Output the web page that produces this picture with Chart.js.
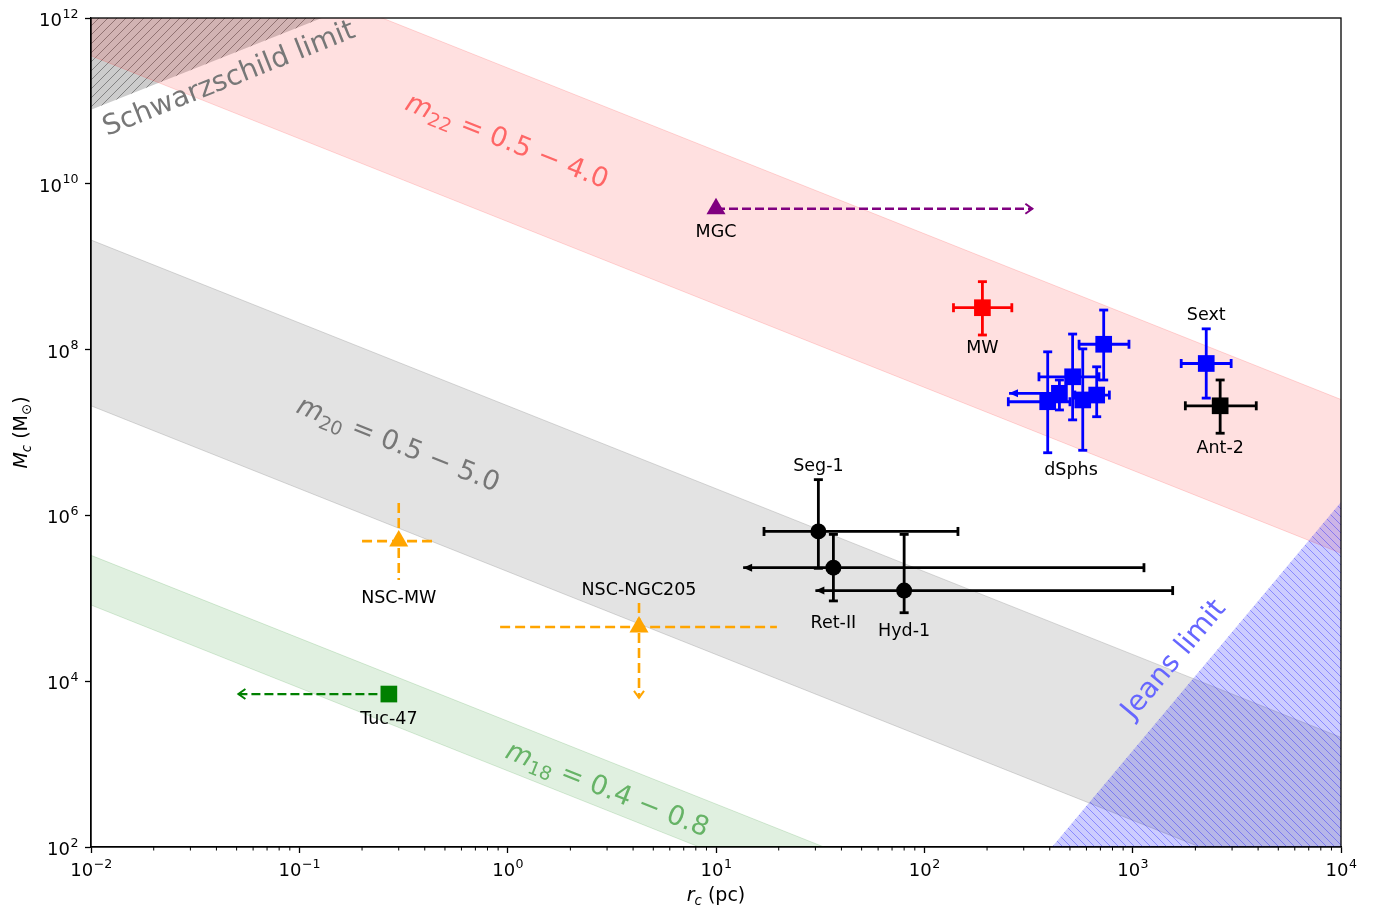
<!DOCTYPE html>
<html>
<head>
<meta charset="utf-8">
<script src="https://cdn.jsdelivr.net/npm/chart.js@4.4.0/dist/chart.umd.min.js"></script>
<style>
  html, body { margin: 0; padding: 0; background: #fff; }
  canvas { display: block; }
</style>
</head>
<body>
<canvas id="chart" width="1375" height="905"></canvas>
<script>
// ---- data ----

// axis ticks (labels are 10^exponent)
const xTickValues = [0.01, 0.1, 1, 10, 100, 1000, 10000];
const xTickExp = ['−2', '−1', '0', '1', '2', '3', '4'];
const yTickValues = [1e2, 1e4, 1e6, 1e8, 1e10, 1e12];
const yTickExp = ['2', '4', '6', '8', '10', '12'];

// band edges (r_c in pc, M_c in Msun)
const bandR = [0.01, 1e4];
const m22Upper = [2.5e13, 2.5e7];
const m22Lower = [3.5e11, 3.5e5];
const m20Upper = [2.1e9, 2.1e3];
const m20Lower = [2.1e7, 2.1e1];
const m18Upper = [3.3e5, 0.33];
const m18Lower = [8.3e4, 0.083];
const schwR = [0.01, 1];
const schwM = [7.8e10, 7.8e12];
const jeansR = [410, 1e4];
const jeansM = [1e2, 1.45e6];

// named objects
const objNames = ['MGC', 'MW', 'Sext', 'Ant-2', 'Seg-1', 'Ret-II', 'Hyd-1', 'NSC-MW', 'NSC-NGC205', 'Tuc-47'];
const objR   = [10, 190, 2255, 2630, 31, 36.6, 80, 0.30, 4.27, 0.269];
const objM   = [5e9, 3.2e8, 6.8e7, 2.1e7, 6.4e5, 2.34e5, 1.24e5, 4.9e5, 4.5e4, 7.0e3];
const objRLo = [null, 138, 1710, 1790, 17, 13.5, 30, 0.20, 0.92, 0.051];
const objRHi = [330, 263, 2970, 3920, 145, 1133, 1556, 0.45, 19.6, null];
const objMLo = [null, 1.5e8, 2.6e7, 9.8e6, 2.3e5, 9.3e4, 6.7e4, 1.66e5, 6.3e3, null];
const objMHi = [null, 6.6e8, 1.78e8, 4.3e7, 2.7e6, 5.9e5, 5.9e5, 1.41e6, 8.8e4, null];
const objLimits = ['r>', '', '', '', '', 'r<', 'r<', '', 'M<', 'r<'];

// dwarf spheroidals cluster
const dsphR   = [726, 515, 445, 391, 576, 672];
const dsphM   = [1.16e8, 4.7e7, 2.97e7, 2.35e7, 2.47e7, 2.83e7];
const dsphRLo = [553, 355, 255, 253, null, 528];
const dsphRHi = [960, 689, null, 500, null, 773];
const dsphMLo = [4.3e7, 1.42e7, 1.87e7, 5.7e6, 6.1e6, 1.55e7];
const dsphMHi = [3.0e8, 1.54e8, 4.3e7, 9.4e7, 1.02e8, 6.2e7];
const dsphLimits = ['', '', 'r<', '', '', ''];

// ---- styles ----
const FONT = '"DejaVu Sans", sans-serif';
const styles = {
  'MGC':        { color: '#800080', marker: 'triangle', dash: [9, 4], caps: false, lw: 2.3 },
  'MW':         { color: '#ff0000', marker: 'rect', caps: true, lw: 2.8 },
  'Sext':       { color: '#0000ff', marker: 'rect', caps: true, lw: 2.8 },
  'Ant-2':      { color: '#000000', marker: 'rect', caps: true, lw: 2.8 },
  'Seg-1':      { color: '#000000', marker: 'circle', caps: true, lw: 2.8 },
  'Ret-II':     { color: '#000000', marker: 'circle', caps: true, lw: 2.8 },
  'Hyd-1':      { color: '#000000', marker: 'circle', caps: true, lw: 2.8 },
  'NSC-MW':     { color: '#ffa500', marker: 'triangle', dash: [10, 5], caps: false, lw: 2.6 },
  'NSC-NGC205': { color: '#ffa500', marker: 'triangle', dash: [10, 5], caps: false, lw: 2.6 },
  'Tuc-47':     { color: '#008000', marker: 'rect', dash: [9, 4], caps: false, lw: 2.3 },
  'dSphs':      { color: '#0000ff', marker: 'rect', caps: true, lw: 2.8 }
};
const markerSize = { rect: 11.8, triangle: 11, circle: 8 };
const labelDy = { 'MGC': 24, 'MW': 41, 'Sext': -48, 'Ant-2': 43, 'Seg-1': -65, 'Ret-II': 56,
                  'Hyd-1': 41, 'NSC-MW': 57, 'NSC-NGC205': -37, 'Tuc-47': 25 };

let ctx = document.getElementById('chart').getContext('2d');

// hatch pattern for the excluded regions
function hatch(size, bg, line, dir) {
  let c = document.createElement('canvas');
  c.width = size; c.height = size;
  let g = c.getContext('2d');
  g.fillStyle = bg;
  g.fillRect(0, 0, size, size);
  g.strokeStyle = line;
  g.lineWidth = 1;
  g.beginPath();
  if (dir === '/') {
    g.moveTo(-1, size + 1); g.lineTo(size + 1, -1);
    g.moveTo(-1, 1); g.lineTo(1, -1);
    g.moveTo(size - 1, size + 1); g.lineTo(size + 1, size - 1);
  } else {
    g.moveTo(-1, -1); g.lineTo(size + 1, size + 1);
    g.moveTo(size - 1, -1); g.lineTo(size + 1, 1);
    g.moveTo(-1, size - 1); g.lineTo(1, size + 1);
  }
  g.stroke();
  return ctx.createPattern(c, 'repeat');
}

function pts(rs, ms) {
  return rs.map((r, i) => ({ x: r, y: ms[i] }));
}

// marker datasets (drawn on top)
let markerSets = objNames.map((name, i) => {
  let st = styles[name];
  return {
    label: name,
    data: [{ x: objR[i], y: objM[i] }],
    pointStyle: st.marker,
    pointRadius: markerSize[st.marker],
    pointBackgroundColor: st.color,
    pointBorderWidth: 0,
    showLine: false
  };
});
markerSets.push({
  label: 'dSphs',
  data: pts(dsphR, dsphM),
  pointStyle: 'rect',
  pointRadius: markerSize.rect,
  pointBackgroundColor: styles.dSphs.color,
  pointBorderWidth: 0,
  showLine: false
});
const markerCount = markerSets.length;

function bandLine(rs, ms, fill, bg, edge) {
  return {
    data: pts(rs, ms),
    showLine: true,
    pointRadius: 0,
    borderWidth: edge ? 1 : 0,
    borderColor: edge || 'rgba(0,0,0,0)',
    backgroundColor: bg || 'rgba(0,0,0,0)',
    fill: fill
  };
}

let bandSets = [
  bandLine(jeansR, jeansM, 'start', hatch(8, 'rgba(0,0,255,0.2)', 'rgba(0,0,255,0.33)', '\\'), null),
  bandLine(bandR, m18Upper, '+1', 'rgba(0,128,0,0.12)', 'rgba(0,128,0,0.15)'),
  bandLine(bandR, m18Lower, false, null, 'rgba(0,128,0,0.15)'),
  bandLine(bandR, m20Upper, '+1', 'rgba(128,128,128,0.22)', 'rgba(128,128,128,0.3)'),
  bandLine(bandR, m20Lower, false, null, 'rgba(128,128,128,0.3)'),
  bandLine(bandR, m22Upper, '+1', 'rgba(255,0,0,0.12)', 'rgba(255,0,0,0.15)'),
  bandLine(bandR, m22Lower, false, null, 'rgba(255,0,0,0.15)'),
  bandLine(schwR, schwM, 'end', hatch(9, 'rgba(128,128,128,0.4)', 'rgba(70,70,70,0.55)', '/'), null)
];

// ---- helpers for the overlay ----
function seg(c, x1, y1, x2, y2) {
  c.beginPath();
  c.moveTo(x1, y1);
  c.lineTo(x2, y2);
  c.stroke();
}

function arrowHead(c, x, y, dir, open) {
  let [ux, uy] = dir;
  let len = open ? 7 : 9, half = open ? 5 : 4;
  let bx = x - ux * len, by = y - uy * len;
  let px = -uy * half, py = ux * half;
  c.setLineDash([]);
  c.beginPath();
  c.moveTo(bx + px, by + py);
  c.lineTo(x, y);
  c.lineTo(bx - px, by - py);
  if (open) {
    c.lineWidth = 2;
    c.stroke();
  } else {
    c.closePath();
    c.fill();
  }
}

function drawErr(c, xs, ys, r, m, rLo, rHi, mLo, mHi, lim, st) {
  let px = xs.getPixelForValue(r), py = ys.getPixelForValue(m);
  c.strokeStyle = st.color;
  c.fillStyle = st.color;
  c.lineWidth = st.lw;
  c.setLineDash(st.dash || []);
  let open = !!st.dash;
  let cap = 4.5;
  let xl = rLo != null ? xs.getPixelForValue(rLo) : px;
  let xr = rHi != null ? xs.getPixelForValue(rHi) : px;
  let yt = mHi != null ? ys.getPixelForValue(mHi) : py;
  let yb = mLo != null ? ys.getPixelForValue(mLo) : py;
  if (xl !== xr) seg(c, xl, py, xr, py);
  if (yt !== yb) seg(c, px, yt, px, yb);
  c.setLineDash([]);
  // ends: arrows for limits, caps otherwise
  c.lineWidth = st.lw;
  if (rLo != null) {
    if (lim === 'r<') arrowHead(c, xl, py, [-1, 0], open);
    else if (st.caps) seg(c, xl, py - cap, xl, py + cap);
  }
  c.lineWidth = st.lw;
  if (rHi != null) {
    if (lim === 'r>') arrowHead(c, xr, py, [1, 0], open);
    else if (st.caps) seg(c, xr, py - cap, xr, py + cap);
  }
  c.lineWidth = st.lw;
  if (mLo != null) {
    if (lim === 'M<') arrowHead(c, px, yb, [0, 1], open);
    else if (st.caps) seg(c, px - cap, yb, px + cap, yb);
  }
  c.lineWidth = st.lw;
  if (mHi != null && st.caps) seg(c, px - cap, yt, px + cap, yt);
}

function drawRich(c, parts, cx, cy, angle, size, color) {
  c.save();
  c.translate(cx, cy);
  c.rotate(angle);
  c.fillStyle = color;
  c.textAlign = 'left';
  c.textBaseline = 'alphabetic';
  let fontOf = p => (p.it ? 'italic ' : '') + (p.sub ? size * 0.7 : size) + 'px ' + FONT;
  let widths = parts.map(p => { c.font = fontOf(p); return c.measureText(p.t).width; });
  let total = widths.reduce((a, b) => a + b, 0);
  let x = -total / 2;
  let base = size * 0.36;
  parts.forEach((p, i) => {
    c.font = fontOf(p);
    c.fillText(p.t, x, base + (p.sub ? size * 0.22 : 0));
    x += widths[i];
  });
  c.restore();
}

// "10" with a raised exponent; align 'center' or 'right', y = baseline of "10"
function drawPow(c, exp, x, y, align) {
  c.textAlign = 'left';
  c.textBaseline = 'alphabetic';
  c.fillStyle = '#000';
  c.font = '18px ' + FONT;
  let wb = c.measureText('10').width;
  c.font = '12.6px ' + FONT;
  let we = c.measureText(exp).width;
  let x0 = align === 'right' ? x - wb - we : x - (wb + we) / 2;
  c.font = '18px ' + FONT;
  c.fillText('10', x0, y);
  c.font = '12.6px ' + FONT;
  c.fillText(exp, x0 + wb + 0.5, y - 8.5);
}

// rotated labels of the bands, anchored in data coordinates
const bandLabels = [
  { parts: [{ t: 'Schwarzschild limit' }], r: 0.0455, m: 1.95e11, slope: 1, color: '#777777', size: 28 },
  { parts: [{ t: 'm', it: true }, { t: '22', sub: true }, { t: ' = 0.5 − 4.0' }], r: 1.0, m: 3.4e10, slope: -1, color: '#ff6666', size: 27 },
  { parts: [{ t: 'm', it: true }, { t: '20', sub: true }, { t: ' = 0.5 − 5.0' }], r: 0.30, m: 7.5e6, slope: -1, color: '#777777', size: 27 },
  { parts: [{ t: 'm', it: true }, { t: '18', sub: true }, { t: ' = 0.4 − 0.8' }], r: 3.03, m: 515, slope: -1, color: '#66b366', size: 27 },
  { parts: [{ t: 'Jeans limit' }], r: 1545, m: 1.9e4, slope: 3, color: '#6666ff', size: 28 }
];

const overlay = {
  id: 'overlay',
  beforeDatasetDraw(chart, args) {
    if (args.index !== markerCount - 1) return;
    let c = chart.ctx, a = chart.chartArea;
    let xs = chart.scales.x, ys = chart.scales.y;
    c.save();
    c.beginPath();
    c.rect(a.left, a.top, a.right - a.left, a.bottom - a.top);
    c.clip();
    c.lineCap = 'butt';
    objNames.forEach((name, i) => {
      drawErr(c, xs, ys, objR[i], objM[i], objRLo[i], objRHi[i], objMLo[i], objMHi[i], objLimits[i], styles[name]);
    });
    dsphR.forEach((r, i) => {
      drawErr(c, xs, ys, r, dsphM[i], dsphRLo[i], dsphRHi[i], dsphMLo[i], dsphMHi[i], dsphLimits[i], styles.dSphs);
    });
    c.restore();
  },
  afterDraw(chart) {
    let c = chart.ctx, a = chart.chartArea;
    let xs = chart.scales.x, ys = chart.scales.y;
    c.save();

    // minor ticks on the x axis
    c.strokeStyle = '#000';
    c.lineWidth = 1;
    for (let d = -2; d < 4; d++) {
      for (let k = 2; k < 10; k++) {
        let px = xs.getPixelForValue(k * Math.pow(10, d));
        seg(c, px, a.bottom, px, a.bottom + 3.5);
      }
    }

    // frame
    c.lineWidth = 1.3;
    c.strokeRect(a.left, a.top, a.right - a.left, a.bottom - a.top);

    // tick labels
    xTickValues.forEach((v, i) => drawPow(c, xTickExp[i], xs.getPixelForValue(v), a.bottom + 29, 'center'));
    yTickValues.forEach((v, i) => drawPow(c, yTickExp[i], a.left - 13, ys.getPixelForValue(v) + 8, 'right'));

    // band labels
    let dx = xs.getPixelForValue(10) - xs.getPixelForValue(1);
    bandLabels.forEach(b => {
      let dy = ys.getPixelForValue(Math.pow(10, b.slope)) - ys.getPixelForValue(1);
      let ang = Math.atan2(dy, dx);
      drawRich(c, b.parts, xs.getPixelForValue(b.r), ys.getPixelForValue(b.m), ang, b.size, b.color);
    });

    // object labels
    c.fillStyle = '#000';
    c.font = '17.5px ' + FONT;
    c.textAlign = 'center';
    c.textBaseline = 'middle';
    objNames.forEach((name, i) => {
      c.fillText(name, xs.getPixelForValue(objR[i]), ys.getPixelForValue(objM[i]) + labelDy[name]);
    });
    c.fillText('dSphs', xs.getPixelForValue(506), ys.getPixelForValue(3.5e6));

    // axis titles
    drawRich(c, [{ t: 'r', it: true }, { t: 'c', it: true, sub: true }, { t: ' (pc)' }],
      (a.left + a.right) / 2, 894, 0, 19, '#000');
    drawRich(c, [{ t: 'M', it: true }, { t: 'c', it: true, sub: true }, { t: ' (M' }, { t: '⊙', sub: true }, { t: ')' }],
      20, (a.top + a.bottom) / 2, -Math.PI / 2, 19, '#000');

    c.restore();
  }
};

new Chart(ctx, {
  type: 'scatter',
  data: { datasets: markerSets.concat(bandSets) },
  options: {
    responsive: false,
    animation: false,
    events: [],
    layout: { padding: { left: 0, right: 34, top: 18, bottom: 0 } },
    plugins: {
      legend: { display: false },
      tooltip: { enabled: false }
    },
    scales: {
      x: {
        type: 'logarithmic',
        min: 0.01,
        max: 1e4,
        afterBuildTicks: s => { s.ticks = xTickValues.map(v => ({ value: v })); },
        afterFit: s => { s.height = 58; s.paddingLeft = 0; s.paddingRight = 0; },
        ticks: { display: false },
        grid: { drawOnChartArea: false, tickLength: 6, tickWidth: 1.3, tickColor: '#000' },
        border: { color: '#000', width: 1.3 }
      },
      y: {
        type: 'logarithmic',
        min: 1e2,
        max: 1e12,
        afterBuildTicks: s => { s.ticks = yTickValues.map(v => ({ value: v })); },
        afterFit: s => { s.width = 91; s.paddingTop = 0; s.paddingBottom = 0; },
        ticks: { display: false },
        grid: { drawOnChartArea: false, tickLength: 6, tickWidth: 1.3, tickColor: '#000' },
        border: { color: '#000', width: 1.3 }
      }
    }
  },
  plugins: [overlay]
});
</script>
</body>
</html>
